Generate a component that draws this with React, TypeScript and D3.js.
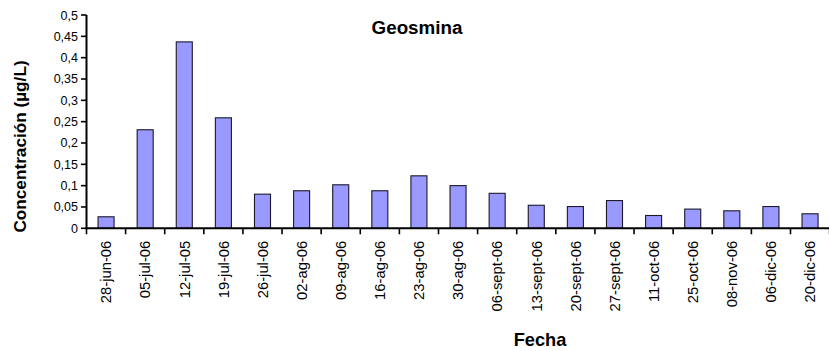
import React from "react";
import * as d3 from "d3";

const categories = [
  "28-jun-06", "05-jul-06", "12-jul-05", "19-jul-06", "26-jul-06", "02-ag-06",
  "09-ag-06", "16-ag-06", "23-ag-06", "30-ag-06", "06-sept-06", "13-sept-06",
  "20-sept-06", "27-sept-06", "11-oct-06", "25-oct-06", "08-nov-06", "06-dic-06", "20-dic-06",
];
const values = [
  0.027, 0.231, 0.437, 0.259, 0.080, 0.088, 0.102, 0.088, 0.123, 0.100,
  0.082, 0.054, 0.051, 0.065, 0.030, 0.045, 0.041, 0.051, 0.034,
];
const yTicks = [0, 0.05, 0.1, 0.15, 0.2, 0.25, 0.3, 0.35, 0.4, 0.45, 0.5];
const title = "Geosmina";
const xTitle = "Fecha";
const yTitle = "Concentración (µg/L)";

const W = 829;
const H = 351;
const left = 86.5;
const right = 829.6;
const top = 15;
const bottom = 228.3;

export default function App() {
  const x = d3.scaleBand<string>().domain(categories).range([left, right]).padding(0);
  const y = d3.scaleLinear().domain([0, 0.5]).range([bottom, top]);
  const bw = x.bandwidth() * 0.41;
  const fmt = (v: number) => String(+v.toFixed(2)).replace(".", ",");
  const font = "'Liberation Sans', Arial, sans-serif";
  const boundaries = categories.map((c) => x(c) as number).concat([right]);

  return (
    <svg
      width={W}
      height={H}
      style={{ position: "absolute", left: 0, top: 0, background: "#fff" }}
      fontFamily={font}
    >
      <rect x={0} y={0} width={W} height={H} fill="#fff" />
      {categories.map((c, i) => {
        const cx = (x(c) as number) + x.bandwidth() / 2;
        return (
          <rect
            key={c}
            x={cx - bw / 2}
            y={y(values[i])}
            width={bw}
            height={y(0) - y(values[i])}
            fill="#9999FF"
            stroke="#1a1a2a"
            strokeWidth={1.1}
          />
        );
      })}
      {/* y axis */}
      <line x1={left} x2={left} y1={y(0.5)} y2={y(0) + 0.8} stroke="#000" strokeWidth={2} />
      {yTicks.map((t) => (
        <g key={t}>
          <line x1={left - 5.5} x2={left} y1={y(t)} y2={y(t)} stroke="#000" strokeWidth={1.6} />
          <text x={78} y={y(t)} dy="0.36em" textAnchor="end" fontSize={12.5} fill="#000">
            {fmt(t)}
          </text>
        </g>
      ))}
      {/* x axis */}
      <line x1={left - 0.8} x2={right} y1={y(0)} y2={y(0)} stroke="#000" strokeWidth={2} />
      {boundaries.map((bx, i) => (
        <line key={i} x1={bx} x2={bx} y1={y(0)} y2={y(0) + 6} stroke="#000" strokeWidth={1.6} />
      ))}
      {categories.map((c) => {
        const cx = (x(c) as number) + x.bandwidth() / 2;
        return (
          <text
            key={c}
            transform={`translate(${cx},240.7) rotate(-90)`}
            dy="0.36em"
            textAnchor="end"
            fontSize={14.8}
            fill="#000"
          >
            {c}
          </text>
        );
      })}
      <text x={417} y={34} textAnchor="middle" fontSize={18.8} fontWeight="bold" fill="#000">
        {title}
      </text>
      <text x={540} y={345.5} textAnchor="middle" fontSize={18.2} fontWeight="bold" fill="#000">
        {xTitle}
      </text>
      <text
        transform="translate(26,146.5) rotate(-90)"
        textAnchor="middle"
        fontSize={17.2}
        fontWeight="bold"
        fill="#000"
      >
        {yTitle}
      </text>
    </svg>
  );
}
